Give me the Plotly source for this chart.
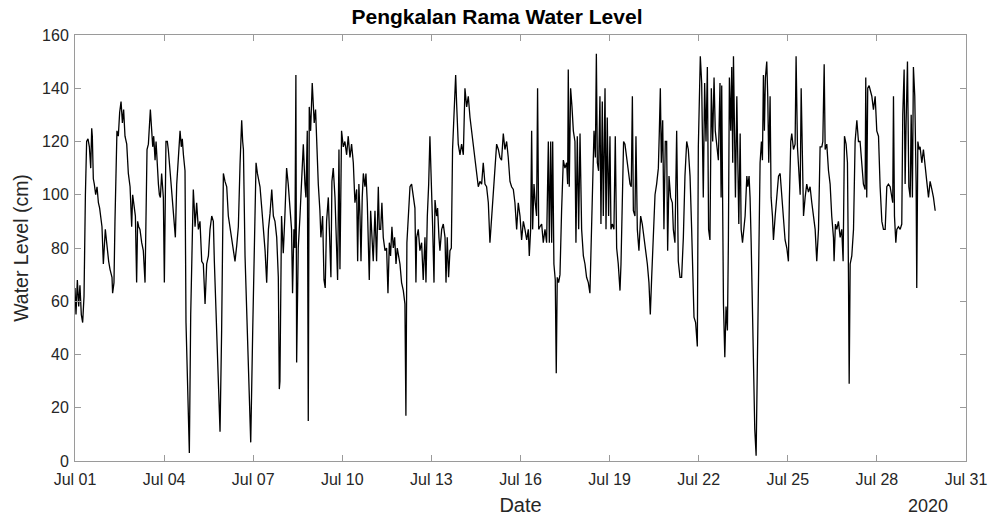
import pandas as pd
import plotly.graph_objects as go

# Hours after 2020-07-01 00:00 and water level (cm)
hours_a = [0.0, 0.8, 1.9, 3.0, 4.0, 5.1, 6.2, 7.3, 8.4, 9.4, 10.5, 11.6, 12.7, 13.5, 14.0, 14.8, 15.6, 16.7, 17.8, 18.9,
           19.9, 21.0, 21.8, 22.9, 23.7, 24.5, 25.6, 26.4, 27.2, 28.3, 29.1, 29.9, 30.4, 31.5, 32.3, 33.1, 33.9, 35.0, 36.1, 37.2,
           38.3, 39.3, 40.4, 41.8, 43.1, 44.5, 45.3, 45.8, 46.6, 47.7, 48.8, 49.8, 50.6, 51.5, 52.5, 53.9, 55.2, 56.6, 57.4, 58.2,
           59.3, 60.1, 60.9, 62.0, 62.8, 63.6, 64.7, 65.5, 66.3, 67.4, 68.2, 69.0, 70.0, 70.9, 71.4, 72.2, 73.0, 73.5, 74.6, 75.4,
           76.8, 78.1, 78.9, 79.5, 80.3, 81.1, 82.2, 83.5, 84.9, 85.9, 86.7, 87.6, 88.4, 88.9, 89.7, 91.1, 92.4, 93.5, 94.6, 95.6,
           96.4, 97.0, 98.3, 99.1, 99.7, 101.0, 101.8, 102.4, 103.7, 104.5, 105.1, 105.9, 106.4, 107.8, 109.1, 110.5, 111.8, 112.6, 114.0, 115.3,
           116.4, 117.2, 118.5, 119.9, 121.2, 122.6, 123.9, 125.3, 126.6, 128.0, 129.3, 130.7, 132.0, 133.4, 134.7, 135.5, 136.1, 137.4, 138.7, 140.1,
           142.0, 143.6, 144.9, 146.3, 147.4, 148.4, 149.5, 150.9, 152.2, 153.6, 154.9, 156.3, 157.6, 159.0, 160.3, 161.6, 163.0, 164.3, 165.1]
level_a = [65, 55, 68, 58, 66, 55, 52, 62, 100, 120, 121, 118, 110, 125, 122, 106, 104, 100, 103, 97,
           95, 90, 88, 74, 82, 87, 82, 78, 75, 72, 70, 69, 63, 67, 90, 115, 124, 122, 131, 135,
           127, 132, 122, 119, 108, 103, 94, 88, 100, 96, 92, 67, 90, 88, 87, 82, 79, 67, 100, 117,
           119, 126, 132, 124, 118, 122, 113, 120, 112, 104, 100, 99, 108, 101, 99, 67, 100, 120, 120, 117,
           109, 102, 96, 95, 88, 84, 104, 114, 124, 118, 121, 115, 112, 109, 52, 25, 3, 55, 80, 102,
           95, 88, 97, 92, 87, 90, 80, 75, 74, 66, 59, 68, 74, 77, 87, 92, 90, 75, 55, 43,
           25, 11, 49, 108, 105, 103, 92, 88, 84, 80, 75, 81, 88, 112, 128, 120, 117, 77, 59, 33,
           7, 49, 87, 112, 108, 105, 103, 95, 88, 79, 67, 87, 93, 102, 92, 90, 84, 69, 27]

hours_b = [165.6, 166.9, 168.3, 169.6, 171.0, 172.3, 173.7, 175.0, 175.8, 176.9, 177.7, 178.5, 179.1, 180.4, 181.8, 183.1, 184.5, 185.8, 186.6, 187.7,
           188.5, 189.3, 190.4, 191.7, 192.5, 193.3, 194.4, 195.2, 196.6, 197.9, 198.7, 200.1, 201.2, 202.2, 203.3, 204.7, 206.0, 206.8, 207.6, 208.7,
           210.1, 211.4, 212.2, 213.3, 214.1, 215.4, 216.8, 218.1, 219.5, 220.8, 222.2, 223.5, 224.9, 226.2, 227.6, 228.4, 229.4, 230.3, 231.1, 232.1,
           233.0, 234.3, 235.1, 236.2, 237.0, 237.8, 238.9, 239.7, 241.0, 242.4, 243.7, 245.1, 245.9, 247.0, 248.0, 249.1, 250.5, 251.8, 252.9, 254.0,
           255.0, 256.1, 257.2, 258.3, 259.4, 260.4, 261.5, 262.6, 263.9, 265.3, 266.6, 267.4, 268.2, 269.3, 270.7, 272.0, 273.4, 274.7, 275.5, 276.1,
           277.4, 278.7, 280.1, 281.4, 282.8, 283.6, 284.7, 285.8, 286.8, 288.2, 289.0, 290.1, 290.9, 292.2, 293.0, 294.1, 294.9, 296.3, 297.6, 299.0,
           299.8, 300.8, 301.9, 303.0, 304.1, 305.1, 306.2, 307.6, 308.4, 309.7, 311.1, 312.4, 313.8, 315.1, 316.5, 317.8, 319.2, 320.5, 321.9, 323.2,
           324.5, 325.9, 327.2, 328.6, 329.9, 331.3, 332.6, 334.0, 335.3, 336.7, 338.0, 339.4, 340.7, 342.1, 343.4]
level_b = [30, 92, 78, 92, 110, 104, 95, 87, 63, 87, 80, 145, 37, 80, 92, 103, 119, 104, 99, 124,
           15, 133, 124, 142, 134, 127, 132, 120, 104, 94, 84, 92, 68, 65, 90, 99, 80, 69, 105, 110,
           99, 80, 68, 117, 72, 124, 118, 120, 115, 122, 114, 119, 112, 97, 102, 75, 104, 92, 75, 99,
           108, 103, 108, 97, 75, 68, 94, 84, 75, 94, 75, 103, 87, 87, 97, 84, 79, 80, 63, 82,
           77, 88, 80, 84, 74, 80, 77, 74, 67, 64, 59, 17, 82, 92, 103, 104, 100, 95, 67, 84,
           87, 79, 82, 68, 84, 67, 92, 104, 122, 105, 88, 67, 98, 92, 95, 84, 79, 87, 89, 84,
           67, 84, 69, 79, 80, 117, 127, 145, 134, 119, 115, 119, 115, 140, 133, 137, 129, 124, 119, 115,
           108, 103, 105, 104, 112, 104, 103, 97, 82, 92, 103, 109, 119, 117, 114]

hours_c = [344.7, 346.1, 347.4, 348.8, 350.1, 351.5, 352.8, 354.2, 355.5, 356.9, 358.2, 359.6, 360.9, 362.3, 363.6, 365.0, 366.3, 367.1, 368.2, 369.0,
           369.8, 370.9, 371.9, 373.0, 373.8, 374.7, 375.7, 377.1, 378.4, 379.8, 381.1, 382.5, 383.3, 384.4, 385.2, 386.0, 387.0, 388.1, 388.9, 389.7,
           390.8, 391.9, 393.2, 394.6, 395.9, 397.3, 398.1, 398.6, 399.4, 400.5, 401.6, 402.7, 404.0, 404.8, 405.9, 407.0, 408.1, 409.4, 410.8, 412.1,
           413.4, 414.8, 416.1, 417.5, 418.3, 419.4, 420.5, 421.3, 422.1, 423.1, 424.2, 425.0, 426.1, 426.9, 428.3, 429.1, 430.1, 431.2, 432.3, 433.1,
           434.2, 435.5, 436.6, 437.7, 439.0, 440.4, 441.2, 442.3, 443.3, 444.4, 445.8, 447.1, 448.5, 449.5, 450.4, 451.2, 452.5, 453.3, 454.4, 455.7,
           457.1, 458.4, 459.8, 461.1, 462.5, 463.8, 464.9, 466.0, 467.3, 468.7, 470.0, 471.4, 472.2, 473.0, 473.8, 474.9, 475.9, 477.0, 478.1, 478.9,
           480.0, 481.3, 482.7, 483.5, 484.8, 486.2, 487.5, 488.9, 490.2, 491.6, 492.9, 494.3, 495.6, 497.0, 498.3, 499.1, 500.2, 501.5, 502.9, 503.7,
           504.5, 505.3, 506.4, 507.7, 508.8, 509.9, 511.0, 512.0, 513.1, 514.2, 515.3, 516.4, 517.4, 518.5, 519.9, 521.2]
level_c = [113, 123, 117, 120, 114, 105, 103, 102, 97, 87, 97, 92, 83, 90, 87, 83, 87, 77, 87, 124,
           87, 104, 97, 92, 140, 87, 88, 89, 82, 87, 82, 120, 82, 120, 82, 120, 74, 68, 33, 69,
           67, 70, 94, 113, 110, 112, 104, 147, 103, 140, 133, 124, 120, 82, 122, 87, 123, 87, 77, 74,
           69, 67, 63, 92, 104, 124, 114, 153, 112, 109, 137, 89, 135, 92, 140, 87, 129, 92, 122, 87,
           89, 87, 122, 80, 74, 64, 74, 103, 120, 119, 113, 109, 104, 103, 137, 94, 92, 122, 87, 79,
           92, 89, 84, 80, 74, 67, 55, 69, 87, 100, 104, 110, 124, 140, 112, 128, 87, 120, 120, 79,
           107, 99, 97, 87, 82, 124, 75, 69, 69, 84, 107, 120, 117, 107, 87, 70, 54, 52, 43, 118,
           139, 152, 142, 99, 142, 120, 148, 87, 83, 140, 120, 144, 124, 118, 113, 142]

hours_d = [522.1, 522.6, 524.0, 525.1, 526.1, 527.2, 528.0, 528.8, 529.9, 530.7, 531.5, 532.1, 532.9, 533.7, 534.8, 535.6, 536.4, 537.5, 538.3, 539.4,
           540.2, 541.5, 542.9, 543.7, 544.7, 545.5, 546.4, 547.2, 548.2, 549.3, 550.4, 551.5, 552.5, 553.6, 554.7, 555.5, 556.3, 557.1, 557.9, 559.0,
           559.8, 560.6, 561.7, 562.5, 563.6, 564.4, 565.8, 567.1, 568.5, 569.8, 571.1, 572.5, 573.8, 575.2, 576.5, 577.3, 578.4, 579.2, 580.6, 581.9,
           582.7, 583.8, 584.9, 586.0, 586.8, 587.6, 588.7, 590.0, 591.3, 592.7, 594.0, 595.4, 596.7, 598.1, 599.4, 600.8, 602.1, 603.5, 604.3, 605.4,
           606.2, 607.5, 608.9, 610.2, 611.5, 612.9, 613.4, 614.5, 615.6, 616.9, 618.3, 619.6, 620.7, 621.8, 623.1, 624.2, 625.0, 625.6, 626.4, 627.7,
           629.1, 630.4, 631.8, 633.1, 634.4, 635.8, 637.1, 638.5, 639.0, 639.8, 640.6, 641.7, 642.5, 643.9, 645.2, 646.6, 647.9, 649.3, 650.6, 652.0,
           653.3, 654.7, 656.0, 657.3, 658.7, 660.0, 660.8, 661.4, 662.2, 663.3, 664.1, 665.4, 666.8, 668.1, 668.9, 670.0, 670.8, 671.6, 672.7, 673.8,
           674.9, 675.7, 676.7, 677.5, 678.6, 679.7, 680.2, 681.1, 682.1, 682.9, 684.3, 685.6, 687.0, 688.3, 689.7, 691.0, 692.4, 693.7, 695.1]
level_d = [99, 141, 59, 39, 58, 49, 83, 144, 124, 148, 112, 152, 124, 99, 137, 104, 89, 123, 87, 82,
           87, 92, 107, 103, 107, 99, 82, 62, 27, 12, 2, 37, 87, 112, 120, 113, 145, 124, 144, 150,
           137, 112, 137, 99, 92, 83, 92, 99, 107, 108, 99, 89, 83, 80, 75, 99, 120, 123, 117, 119,
           152, 118, 109, 100, 140, 124, 92, 99, 104, 101, 103, 97, 92, 87, 75, 87, 118, 118, 120, 149,
           117, 119, 109, 104, 92, 84, 75, 89, 87, 90, 84, 87, 75, 122, 119, 112, 71, 29, 74, 77,
           87, 120, 128, 120, 120, 112, 104, 102, 144, 99, 140, 141, 139, 137, 132, 137, 124, 122, 103, 90,
           87, 87, 103, 104, 103, 99, 97, 137, 92, 82, 87, 88, 87, 89, 130, 147, 104, 127, 150, 103,
           99, 130, 99, 148, 137, 104, 65, 120, 117, 118, 112, 117, 109, 105, 99, 105, 102, 99, 94]

tick_labels = ["Jul 01", "Jul 04", "Jul 07", "Jul 10", "Jul 13", "Jul 16",
               "Jul 19", "Jul 22", "Jul 25", "Jul 28", "Jul 31"]
tick_dates = ["2020-07-01", "2020-07-04", "2020-07-07", "2020-07-10", "2020-07-13", "2020-07-16",
              "2020-07-19", "2020-07-22", "2020-07-25", "2020-07-28", "2020-07-31"]

hours = hours_a + hours_b + hours_c + hours_d
levels = level_a + level_b + level_c + level_d
times = pd.Timestamp("2020-07-01") + pd.to_timedelta(hours, unit="h")

fig = go.Figure()
fig.add_trace(go.Scatter(x=times, y=levels, mode="lines",
                         line=dict(color="black", width=1.3), showlegend=False))

axis_col = "#9a9a9a"
text_col = "#262626"
fig.update_layout(
    width=994, height=518,
    margin=dict(l=75, r=28, t=35, b=57, autoexpand=False),
    paper_bgcolor="white", plot_bgcolor="white",
    font=dict(family="Liberation Sans, Arial, sans-serif", size=16, color=text_col),
    title=dict(text="<b>Pengkalan Rama Water Level</b>", x=0.5, xanchor="center",
               y=0.967, yanchor="middle", font=dict(size=21, color="black")),
    xaxis=dict(range=["2020-07-01", "2020-07-31"], tickvals=tick_dates, ticktext=tick_labels,
               showline=True, linecolor=axis_col, linewidth=1, mirror="ticks",
               ticks="inside", ticklen=6, tickcolor=axis_col, showgrid=False, zeroline=False,
               ticklabelstandoff=4, automargin=False,
               title=dict(text="Date", font=dict(size=20), standoff=10)),
    yaxis=dict(range=[0, 160], dtick=20, showline=True, linecolor=axis_col, linewidth=1,
               mirror="ticks", ticks="inside", ticklen=6, tickcolor=axis_col,
               showgrid=False, zeroline=False, ticklabelstandoff=2, automargin=False,
               title=dict(text="Water Level (cm)", font=dict(size=19.5), standoff=8)),
    annotations=[dict(text="2020", xref="paper", yref="paper", x=0.957, y=-0.106,
                      xanchor="center", yanchor="middle", showarrow=False,
                      font=dict(size=18, color=text_col))],
)

fig.write_html("out.html", config={"displayModeBar": False},
               post_script="document.body.style.margin='0px';")
